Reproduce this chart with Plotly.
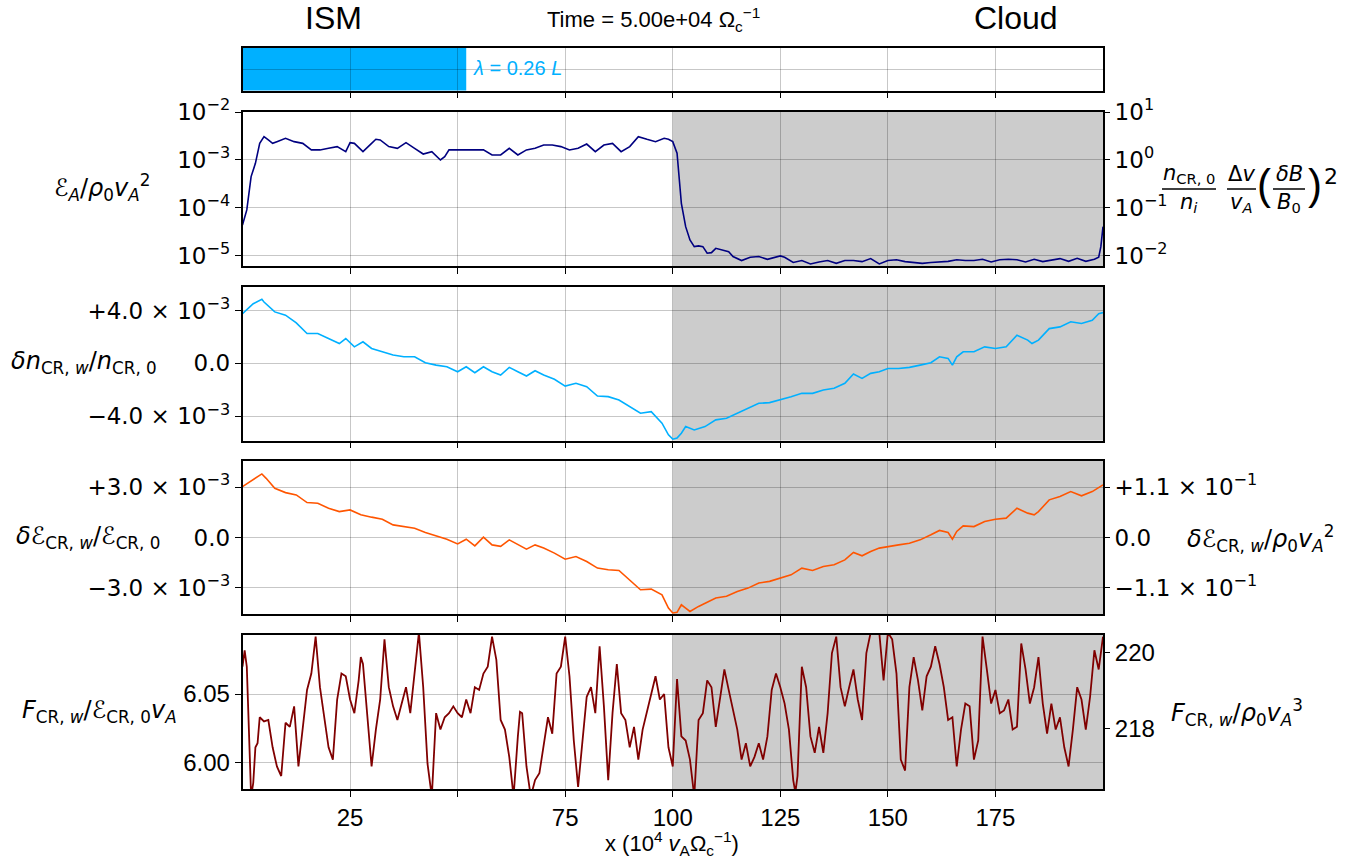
import plotly.graph_objects as go

# ---------------- data ----------------
L_BOX = 200.0
LAMBDA_FRAC = 0.26
X_TICKS = [25, 50, 75, 100, 125, 150, 175]
X_TICKTEXT = ["25", "", "75", "100", "125", "150", "175"]

# Panel 1: wave energy E_A / rho0 vA^2 (log)
x1 = [0, 1, 2, 3, 4, 5, 6, 7, 8, 10, 12, 14, 16, 18, 20, 22, 24, 25, 26, 28, 30, 31, 32, 34, 36, 38,
      40, 42, 44, 46, 47, 48, 50, 52, 54, 56, 58, 60, 62, 64, 66, 68, 70, 72, 74, 76, 78, 80, 82, 84,
      86, 88, 90, 92, 94, 96, 98, 99, 100, 101, 102, 103, 104, 105, 106, 107, 108, 109, 110, 111, 112,
      113, 114, 116, 118, 120, 122, 124, 125, 126, 128, 130, 132, 134, 136, 138, 140, 142, 144, 146,
      148, 150, 152, 154, 156, 158, 160, 162, 164, 166, 168, 170, 172, 174, 176, 178, 180, 182, 184,
      186, 188, 190, 192, 194, 196, 198, 199, 199.5, 200]
ea = [4.43e-5, 9.1e-5, 4.5e-4, 8.5e-4, 2.22e-3, 3.06e-3, 2.61e-3, 2.22e-3, 2.41e-3, 2.83e-3,
      2.41e-3, 2.22e-3, 1.62e-3, 1.62e-3, 1.75e-3, 1.90e-3, 1.49e-3, 2.30e-3, 2.22e-3, 1.49e-3,
      2.22e-3, 2.70e-3, 2.61e-3, 1.90e-3, 1.75e-3, 2.30e-3, 1.75e-3, 1.33e-3, 1.49e-3, 1.00e-3,
      1.17e-3, 1.62e-3, 1.62e-3, 1.62e-3, 1.62e-3, 1.62e-3, 1.27e-3, 1.27e-3, 1.75e-3, 1.27e-3,
      1.62e-3, 1.75e-3, 2.05e-3, 2.05e-3, 1.90e-3, 1.62e-3, 1.75e-3, 2.15e-3, 1.49e-3, 2.05e-3,
      2.22e-3, 1.49e-3, 1.90e-3, 3.06e-3, 2.70e-3, 2.41e-3, 2.83e-3, 2.70e-3, 2.41e-3, 1.38e-3,
      1.25e-4, 4.08e-5, 2.16e-5, 1.56e-5, 1.62e-5, 1.56e-5, 1.14e-5, 1.17e-5, 1.44e-5, 1.38e-5,
      1.29e-5, 1.23e-5, 9.7e-6, 8.0e-6, 9.4e-6, 9.7e-6, 8.5e-6, 9.4e-6, 1.0e-5, 9.4e-6,
      7.3e-6, 8.0e-6, 6.8e-6, 7.5e-6, 8.0e-6, 7.0e-6, 8.0e-6, 8.0e-6, 7.6e-6, 8.8e-6,
      6.8e-6, 8.0e-6, 8.3e-6, 7.6e-6, 7.3e-6, 7.0e-6, 7.3e-6, 7.5e-6, 7.7e-6, 8.3e-6,
      8.0e-6, 8.0e-6, 8.5e-6, 7.5e-6, 8.3e-6, 8.5e-6, 8.3e-6, 7.5e-6, 8.5e-6, 7.6e-6,
      8.3e-6, 8.8e-6, 7.7e-6, 8.9e-6, 7.7e-6, 8.5e-6, 9.4e-6, 1.56e-5, 4.08e-5]

# Panel 2: delta n_CR,w / n_CR,0  (units of 1e-3)
x2 = [0, 2.5, 4.5, 5, 7.5, 10, 12.5, 15, 17.5, 20, 22.5, 24, 26, 28, 30, 32.5, 35, 37.5, 40, 42.5,
      45, 47.5, 50, 52, 54, 56, 58, 60, 62, 64, 66, 68, 70, 72.5, 75, 77.5, 80, 82.5, 85, 87.5,
      90, 92.5, 95, 97.5, 99, 100, 101, 102, 103, 105, 107.5, 110, 112.5, 115, 117.5, 120, 122.5, 125, 127.5, 130,
      132.5, 135, 137.5, 140, 142, 144, 146, 148, 150, 152.5, 155, 157.5, 160, 162, 164, 165, 166, 167.5, 170, 172.5,
      175, 177.5, 180, 182.5, 183.5, 185, 187.5, 190, 192.5, 195, 197.5, 199, 200]
dn = [3.76, 4.51, 4.84, 4.64, 3.89, 3.64, 3.06, 2.26, 2.26, 1.88, 1.50, 1.88, 1.25, 1.63, 1.13, 0.88, 0.63, 0.50, 0.50, 0.05,
      -0.13, -0.25, -0.63, -0.25, -0.70, -0.25, -0.63, -0.88, -0.30, -0.63, -0.95, -0.55, -0.88, -1.20, -1.71, -1.50, -1.76, -2.46, -2.51, -2.76,
      -3.26, -3.76, -3.64, -4.51, -5.39, -5.72, -5.64, -5.27, -4.77, -5.02, -4.77, -4.26, -4.14, -3.76, -3.39, -3.01, -2.96, -2.76, -2.51, -2.26,
      -2.26, -2.01, -1.88, -1.50, -0.80, -1.13, -0.75, -0.63, -0.38, -0.38, -0.30, -0.13, 0.05, 0.50, 0.38, -0.13, 0.50, 0.88, 0.88, 1.25,
      1.13, 1.25, 2.13, 1.76, 1.50, 1.76, 2.63, 2.76, 3.14, 3.01, 3.26, 3.76, 3.84]

# Panel 3: delta E_CR,w / E_CR,0 (units of 1e-3)
x3 = [0, 2.5, 4.5, 5.5, 7.5, 10, 12.5, 15, 17.5, 20, 22.5, 25, 27.5, 30, 32.5, 35, 37.5, 40, 42.5, 45,
      47.5, 50, 52, 54, 56, 58, 60, 62, 64, 66, 68, 70, 72.5, 75, 77.5, 80, 82.5, 85, 87.5, 90,
      92.5, 95, 97.5, 99, 100, 101, 102, 103, 104, 106, 108, 110, 112.5, 115, 117.5, 120, 122.5, 125, 127.5, 130,
      132.5, 135, 137.5, 140, 142, 144, 146, 148, 150, 152.5, 155, 157.5, 160, 162, 164, 165, 166, 167.5, 170, 172.5,
      175, 177.5, 180, 182.5, 184, 185, 187.5, 190, 192.5, 195, 197.5, 199, 200]
de = [3.03, 3.43, 3.78, 3.52, 2.93, 2.67, 2.53, 2.08, 2.04, 1.74, 1.54, 1.64, 1.35, 1.21, 1.09, 0.75, 0.65, 0.55, 0.30, 0.10,
      -0.10, -0.38, -0.10, -0.50, 0.02, -0.44, -0.53, -0.14, -0.44, -0.69, -0.44, -0.63, -0.93, -1.29, -1.13, -1.43, -1.82, -1.92, -1.96, -2.51,
      -3.11, -3.07, -3.41, -4.20, -4.49, -4.45, -4.00, -4.20, -4.40, -4.10, -3.86, -3.60, -3.50, -3.21, -3.01, -2.71, -2.61, -2.42, -2.22, -1.82,
      -1.96, -1.72, -1.62, -1.33, -0.89, -1.09, -0.83, -0.63, -0.53, -0.44, -0.34, -0.14, 0.16, 0.42, 0.30, -0.10, 0.36, 0.69, 0.65, 0.95,
      1.09, 1.15, 1.74, 1.45, 1.35, 1.54, 2.24, 2.44, 2.73, 2.48, 2.73, 2.99, 3.13]

# Panel 4: F_CR,w / E_CR,0 vA
x4 = [0, 0.5, 1, 1.5, 2, 2.5, 3, 3.5, 4, 5, 6, 7, 8, 9, 10, 11, 12, 13, 14, 15,
      16, 17, 18, 19, 20, 21, 22, 23, 24, 25, 26, 27, 27.5, 28, 29, 30, 31, 32, 33, 34,
      35, 36, 37, 38, 39, 40, 41, 42, 43, 44, 45, 46, 47, 48, 49, 50, 51, 52, 53, 54,
      55, 56, 57, 58, 59, 60, 61, 62, 63, 64, 64.5, 65, 66, 67, 68, 69, 70, 71, 72, 73,
      74, 75, 76, 77, 78, 79, 80, 81, 82, 83, 84, 85, 86, 87, 88, 89, 90, 91, 92, 93,
      94, 95, 96, 97, 98, 99, 100, 101, 102, 103, 104, 105, 106, 107, 108, 109, 110, 111, 112, 113,
      114, 115, 116, 117, 118, 119, 120, 121, 122, 123, 124, 125, 126, 127, 128, 128.5, 129, 130, 131, 132,
      133, 134, 135, 136, 137, 138, 139, 140, 141, 142, 143, 144, 145, 146, 147, 148, 149, 150, 151, 152,
      153, 154, 155, 156, 157, 158, 159, 160, 161, 162, 163, 164, 165, 166, 167, 168, 169, 170, 171, 172,
      173, 174, 175, 176, 177, 178, 179, 180, 181, 182, 183, 184, 185, 186, 187, 188, 189, 190, 191, 192,
      193, 194, 195, 196, 197, 198, 199, 200]
fc = [6.070, 6.082, 6.070, 6.024, 5.975, 5.985, 6.011, 6.014, 6.033, 6.030, 6.031, 6.011, 5.997, 5.990, 6.029, 6.026, 6.041, 5.997, 6.026, 6.053,
      6.065, 6.092, 6.055, 6.031, 6.011, 6.002, 6.046, 6.065, 6.063, 6.046, 6.036, 6.060, 6.077, 6.072, 6.031, 5.997, 6.024, 6.046, 6.090, 6.055,
      6.041, 6.031, 6.043, 6.055, 6.036, 6.068, 6.095, 6.055, 5.999, 5.975, 6.036, 6.024, 6.033, 6.036, 6.041, 6.036, 6.033, 6.046, 6.036, 6.055,
      6.053, 6.065, 6.070, 6.092, 6.075, 6.031, 6.024, 6.004, 5.975, 6.019, 6.037, 6.036, 5.997, 5.975, 5.987, 5.992, 6.011, 6.033, 6.021, 6.065,
      6.070, 6.092, 6.063, 6.016, 5.982, 6.014, 6.048, 6.055, 6.036, 6.085, 6.041, 5.987, 6.036, 6.072, 6.036, 6.031, 6.011, 6.026, 6.002, 6.024,
      6.036, 6.050, 6.063, 6.046, 6.050, 6.011, 5.997, 6.061, 6.019, 6.016, 6.002, 5.975, 6.031, 6.036, 6.060, 6.055, 6.026, 6.048, 6.068, 6.053,
      6.038, 6.024, 6.002, 6.014, 5.997, 6.004, 6.014, 6.002, 6.019, 6.053, 6.065, 6.055, 6.043, 6.024, 5.987, 5.978, 5.990, 6.070, 6.055, 6.019,
      6.007, 6.026, 6.007, 6.036, 6.080, 6.092, 6.055, 6.041, 6.055, 6.068, 6.046, 6.031, 6.080, 6.095, 6.098, 6.095, 6.060, 6.095, 6.090, 6.065,
      6.002, 5.994, 6.055, 6.077, 6.060, 6.038, 6.063, 6.070, 6.085, 6.072, 6.055, 6.031, 6.033, 5.997, 6.024, 6.043, 6.041, 6.002, 6.016, 6.092,
      6.068, 6.043, 6.053, 6.036, 6.038, 6.046, 6.024, 6.026, 6.087, 6.068, 6.043, 6.055, 6.077, 6.043, 6.021, 6.043, 6.024, 6.033, 6.011, 5.997,
      6.024, 6.055, 6.046, 6.024, 6.048, 6.082, 6.068, 6.092]

# ---------------- styling ----------------
W, H = 1362, 864
BLUE = "#00b0ff"
NAVY = "#000080"
ORANGE = "#ff5500"
MAROON = "#800000"
SHADE = "#cccccc"
GRID = "rgba(0,0,0,0.22)"
MATHF = "DejaVu Sans"
SANSF = "Liberation Sans"


def fx(px):
    return px / W


def fy(py):
    return 1 - py / H


XDOM = [fx(242.5), fx(1103)]
P_BAR = [fy(90.5), fy(47.5)]
P1 = [fy(266), fy(112)]
P2 = [fy(440.5), fy(287)]
P3 = [fy(614), fy(461)]
P4 = [fy(789), fy(635)]

fig = go.Figure()
fig.add_trace(go.Scatter(x=[], y=[], xaxis="x", yaxis="y", showlegend=False))
fig.add_trace(go.Scatter(x=x1, y=ea, xaxis="x2", yaxis="y2", mode="lines",
                         line=dict(color=NAVY, width=1.6), showlegend=False))
fig.add_trace(go.Scatter(x=[], y=[], xaxis="x2", yaxis="y3", showlegend=False))
fig.add_trace(go.Scatter(x=x2, y=[v * 1e-3 for v in dn], xaxis="x3", yaxis="y4", mode="lines",
                         line=dict(color=BLUE, width=1.6), showlegend=False))
fig.add_trace(go.Scatter(x=x3, y=[v * 1e-3 for v in de], xaxis="x4", yaxis="y5", mode="lines",
                         line=dict(color=ORANGE, width=1.6), showlegend=False))
fig.add_trace(go.Scatter(x=[], y=[], xaxis="x4", yaxis="y6", showlegend=False))
fig.add_trace(go.Scatter(x=x4, y=fc, xaxis="x5", yaxis="y7", mode="lines",
                         line=dict(color=MAROON, width=1.8), showlegend=False))
fig.add_trace(go.Scatter(x=[], y=[], xaxis="x5", yaxis="y8", showlegend=False))

xbase = dict(range=[0, L_BOX], domain=XDOM, tickvals=X_TICKS, showgrid=True, gridcolor=GRID,
             gridwidth=1, ticks="outside", ticklen=6, tickwidth=1.3, tickcolor="black",
             showline=True, mirror=True, linecolor="black", linewidth=1.5, zeroline=False,
             showticklabels=False, automargin=False)
ybase = dict(showgrid=True, gridcolor=GRID, gridwidth=1, ticks="outside", ticklen=6,
             tickwidth=1.3, tickcolor="black", showline=True, mirror=True, linecolor="black",
             linewidth=1.5, zeroline=False, automargin=False,
             tickfont=dict(family=MATHF, size=23, color="black"))
yright = dict(showgrid=False, ticks="outside", ticklen=6, tickwidth=1.3, tickcolor="black",
              showline=False, zeroline=False, side="right", automargin=False,
              tickfont=dict(family=MATHF, size=23, color="black"))

layout = dict(width=W, height=H, margin=dict(l=0, r=0, t=0, b=0, pad=0), autosize=False,
              paper_bgcolor="white", plot_bgcolor="white", showlegend=False)

layout["xaxis"] = dict(xbase, anchor="y")
layout["xaxis2"] = dict(xbase, anchor="y2")
layout["xaxis3"] = dict(xbase, anchor="y4")
layout["xaxis4"] = dict(xbase, anchor="y5")
layout["xaxis5"] = dict(xbase, anchor="y7", showticklabels=True, ticktext=X_TICKTEXT,
                        tickfont=dict(family=SANSF, size=24, color="black"))

layout["yaxis"] = dict(ybase, domain=P_BAR, anchor="x", range=[0, 1], tickvals=[0.5],
                       ticktext=[""], ticks="", showticklabels=False)
layout["yaxis2"] = dict(ybase, domain=P1, anchor="x2", type="log", range=[-5.21, -2.0],
                        tickvals=[1e-5, 1e-4, 1e-3, 1e-2],
                        ticktext=["10<sup>−5</sup>", "10<sup>−4</sup>", "10<sup>−3</sup>", "10<sup>−2</sup>"])
layout["yaxis3"] = dict(yright, overlaying="y2", anchor="x2", type="log", range=[-2.21, 1.0],
                        tickvals=[1e-2, 1e-1, 1, 10],
                        ticktext=["10<sup>−2</sup>", "10<sup>−1</sup>", "10<sup>0</sup>", "10<sup>1</sup>"])
layout["yaxis4"] = dict(ybase, domain=P2, anchor="x3", range=[-5.82e-3, 5.77e-3],
                        tickvals=[-4e-3, 0, 4e-3],
                        ticktext=["−4.0 × 10<sup>−3</sup>", "0.0", "+4.0 × 10<sup>−3</sup>"])
layout["yaxis5"] = dict(ybase, domain=P3, anchor="x4", range=[-4.55e-3, 4.55e-3],
                        tickvals=[-3e-3, 0, 3e-3],
                        ticktext=["−3.0 × 10<sup>−3</sup>", "0.0", "+3.0 × 10<sup>−3</sup>"])
layout["yaxis6"] = dict(yright, overlaying="y5", anchor="x4", range=[-0.1668, 0.1668],
                        tickvals=[-0.11, 0, 0.11],
                        ticktext=["−1.1 × 10<sup>−1</sup>", "0.0", "+1.1 × 10<sup>−1</sup>"])
layout["yaxis7"] = dict(ybase, domain=P4, anchor="x5", range=[5.9805, 6.0932],
                        tickvals=[6.00, 6.05], ticktext=["6.00", "6.05"],
                        tickfont=dict(family=SANSF, size=24, color="black"))
layout["yaxis8"] = dict(yright, overlaying="y7", anchor="x5", range=[216.39, 220.47],
                        tickvals=[218, 220], ticktext=["218", "220"],
                        tickfont=dict(family=SANSF, size=24, color="black"))

shapes = []
shapes.append(dict(type="rect", xref="x", yref="y domain", x0=0, x1=LAMBDA_FRAC * L_BOX, y0=0, y1=1,
                   fillcolor=BLUE, line=dict(width=0), layer="below"))
for xr, yr in [("x2", "y2"), ("x3", "y4"), ("x4", "y5"), ("x5", "y7")]:
    shapes.append(dict(type="rect", xref=xr, yref=yr + " domain", x0=100, x1=L_BOX, y0=0, y1=1,
                       fillcolor=SHADE, line=dict(width=0), layer="below"))
# fraction bars of the right-hand label of panel 1
for a, b in [(1162, 1216), (1227, 1256), (1273, 1305)]:
    shapes.append(dict(type="line", xref="paper", yref="paper", x0=fx(a), x1=fx(b), y0=fy(189), y1=fy(189),
                       line=dict(color="black", width=1.5)))
layout["shapes"] = shapes


def ann(text, x, y, size=24, family=MATHF, color="black", xanchor="center", yanchor="middle"):
    return dict(text=text, x=fx(x), y=fy(y), xref="paper", yref="paper", showarrow=False,
                font=dict(family=family, size=size, color=color), xanchor=xanchor, yanchor=yanchor)


anns = [
    ann("ISM", 333, 18, size=32, family=SANSF),
    ann("Cloud", 1016, 18, size=32, family=SANSF),
    ann("Time = 5.00e+04 Ω<sub>c</sub><sup>−1</sup>", 545, 20, size=22, family=SANSF, xanchor="left"),
    ann("<i>λ</i> = 0.26 <i>L</i>", 471, 68, size=20, family=SANSF, color=BLUE, xanchor="left"),
    ann("x (10<sup>4</sup> <i>v</i><sub>A</sub>Ω<sub>c</sub><sup>−1</sup>)", 672, 843, size=22, family=SANSF),
    # left labels
    ann("ℰ<sub><i>A</i></sub>/<i>ρ</i><sub>0</sub><i>v</i><sub><i>A</i></sub><sup>2</sup>", 102, 188),
    ann("<i>δn</i><sub>CR, <i>w</i></sub>/<i>n</i><sub>CR, 0</sub>", 84, 363),
    ann("<i>δ</i>ℰ<sub>CR, <i>w</i></sub>/ℰ<sub>CR, 0</sub>", 88, 537),
    ann("<i>F</i><sub>CR, <i>w</i></sub>/ℰ<sub>CR, 0</sub><i>v</i><sub><i>A</i></sub>", 99, 711),
    # right labels
    ann("<i>δ</i>ℰ<sub>CR, <i>w</i></sub>/<i>ρ</i><sub>0</sub><i>v</i><sub><i>A</i></sub><sup>2</sup>", 1260, 538),
    ann("<i>F</i><sub>CR, <i>w</i></sub>/<i>ρ</i><sub>0</sub><i>v</i><sub><i>A</i></sub><sup>3</sup>", 1237, 712),
    # composite fraction label panel 1 (right)
    ann("<i>n</i><sub>CR, 0</sub>", 1189, 174, size=21),
    ann("<i>n</i><sub><i>i</i></sub>", 1189, 203, size=21),
    ann("Δ<i>v</i>", 1241, 174, size=21),
    ann("<i>v</i><sub><i>A</i></sub>", 1241, 203, size=21),
    ann("(", 1264, 185, size=42, family=SANSF),
    ann("<i>δB</i>", 1289, 174, size=21),
    ann("<i>B</i><sub>0</sub>", 1289, 203, size=21),
    ann(")", 1315, 185, size=42, family=SANSF),
    ann("2", 1331, 176, size=22),
]
layout["annotations"] = anns

fig.update_layout(**layout)
fig.write_html("out.html")
